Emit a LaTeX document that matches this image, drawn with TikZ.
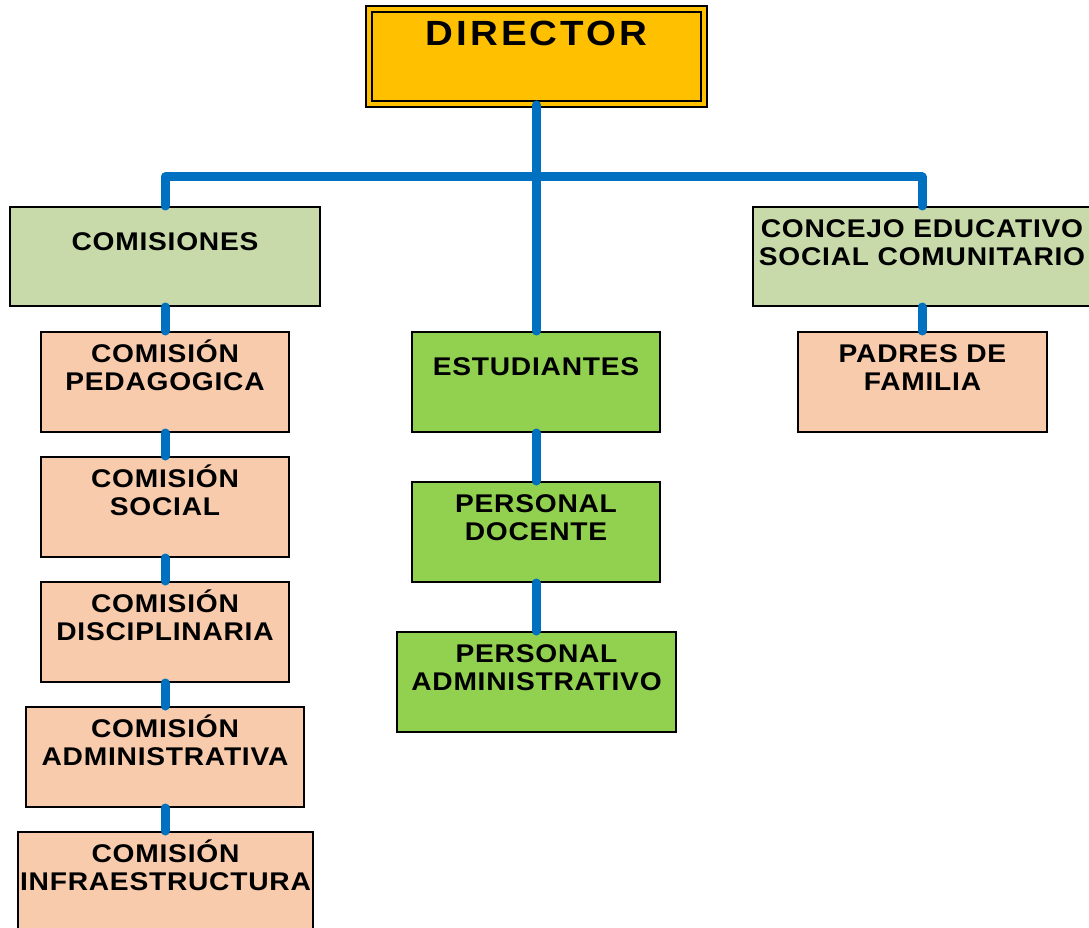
\documentclass[tikz,border=0pt]{standalone}
\usepackage{fontspec}
\setmainfont{Liberation Sans}[LetterSpace=3, FakeStretch=1.1]
\definecolor{dirgold}{HTML}{FFC000}
\definecolor{olivebox}{HTML}{C9DAAA}
\definecolor{peachbox}{HTML}{F8CBAD}
\definecolor{greenbox}{HTML}{92D050}
\definecolor{linkblue}{HTML}{0070C0}
\newcommand{\Lrule}{\rule{0pt}{1em}}
\tikzset{
  orgbox/.style={draw=black, line width=2pt, rectangle, inner sep=0pt},
  olivefill/.style={orgbox, fill=olivebox},
  peachfill/.style={orgbox, fill=peachbox},
  greenfill/.style={orgbox, fill=greenbox},
  lbl/.style={inner sep=0pt, outer sep=0pt, align=center, anchor=north,
    font=\bfseries\fontsize{25.6pt}{28pt}\selectfont},
  twoline/.style={lbl, yshift=-5.6pt},
  oneline/.style={lbl, yshift=-19.1pt},
  link/.style={draw=linkblue, line width=9pt, line cap=round, line join=round},
}
\begin{document}
\begin{tikzpicture}[x=1pt,y=-1pt]
\useasboundingbox (0,0) rectangle (1089,928);
\clip (0,0) rectangle (1089,928);
\fill[white] (0,0) rectangle (1089,928);
% director
\node[draw=black, line width=2pt, double=dirgold, double distance=4pt, fill=dirgold,
      minimum width=335pt, minimum height=95pt, inner sep=0pt] (dir) at (536.5,56.5) {};
\node[lbl, font=\bfseries\fontsize{35pt}{40pt}\selectfont\addfontfeature{LetterSpace=9}, yshift=-2.7pt] (tdir) at (dir.north) {\Lrule DIRECTOR};
% level 1
\node[olivefill, minimum width=310pt, minimum height=99pt] (com) at (165,256.5) {};
\node[oneline] (tcom) at (com.north) {\Lrule COMISIONES};
\node[olivefill, minimum width=338pt, minimum height=99pt] (conc) at (922,256.5) {};
\node[twoline] (tconc) at (conc.north) {\Lrule CONCEJO EDUCATIVO\\SOCIAL COMUNITARIO};
% left column
\node[peachfill, minimum width=248pt, minimum height=100pt] (ped) at (165,382) {};
\node[twoline] (tped) at (ped.north) {\Lrule COMISIÓN\\PEDAGOGICA};
\node[peachfill, minimum width=248pt, minimum height=100pt] (soc) at (165,507) {};
\node[twoline] (tsoc) at (soc.north) {\Lrule COMISIÓN\\SOCIAL};
\node[peachfill, minimum width=248pt, minimum height=100pt] (dis) at (165,632) {};
\node[twoline] (tdis) at (dis.north) {\Lrule COMISIÓN\\DISCIPLINARIA};
\node[peachfill, minimum width=278pt, minimum height=100pt] (adm) at (165,757) {};
\node[twoline] (tadm) at (adm.north) {\Lrule COMISIÓN\\ADMINISTRATIVA};
\node[peachfill, minimum width=295pt, minimum height=100pt] (inf) at (165.5,882) {};
\node[twoline] (tinf) at (inf.north) {\Lrule COMISIÓN\\INFRAESTRUCTURA};
% middle column
\node[greenfill, minimum width=248pt, minimum height=100pt] (est) at (536,382) {};
\node[oneline] (test) at (est.north) {\Lrule ESTUDIANTES};
\node[greenfill, minimum width=248pt, minimum height=100pt] (doc) at (536,532) {};
\node[twoline] (tdoc) at (doc.north) {\Lrule PERSONAL\\DOCENTE};
\node[greenfill, minimum width=279pt, minimum height=100pt] (padm) at (536.5,682) {};
\node[twoline] (tpadm) at (padm.north) {\Lrule PERSONAL\\ADMINISTRATIVO};
% right column
\node[peachfill, minimum width=249pt, minimum height=100pt] (pad) at (922.5,382) {};
\node[twoline] (tpad) at (pad.north) {\Lrule PADRES DE\\FAMILIA};
% connectors
\coordinate (bar) at (536,177);
\draw[link] (dir.south) -- (dir.south |- est.north);
\draw[link] (com.north) |- (bar) -| (conc.north);
\draw[link] (com.south) -- (com.south |- ped.north);
\draw[link] (ped.south) -- (soc.north);
\draw[link] (soc.south) -- (dis.north);
\draw[link] (dis.south) -- (adm.north);
\draw[link] (adm.south) -- (adm.south |- inf.north);
\draw[link] (est.south) -- (doc.north);
\draw[link] (doc.south) -- (doc.south |- padm.north);
\draw[link] (conc.south) -- (conc.south |- pad.north);
\end{tikzpicture}
\end{document}
